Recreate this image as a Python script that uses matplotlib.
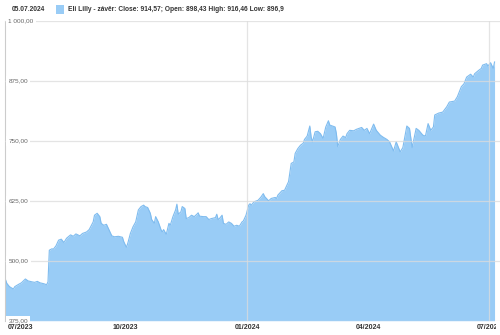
import matplotlib
matplotlib.use("Agg")
import matplotlib.pyplot as plt
import matplotlib.transforms as mtransforms
import pandas as pd

plt.rcParams['font.family'] = ['Liberation Sans', 'DejaVu Sans']

# close prices
dates = [
    "2023-07-03", "2023-07-04", "2023-07-06", "2023-07-09", "2023-07-10", "2023-07-13",
    "2023-07-15", "2023-07-18", "2023-07-20", "2023-07-23", "2023-07-25", "2023-07-27",
    "2023-07-29", "2023-08-01", "2023-08-03", "2023-08-04", "2023-08-05", "2023-08-07",
    "2023-08-08", "2023-08-10", "2023-08-12", "2023-08-14", "2023-08-16", "2023-08-18",
    "2023-08-21", "2023-08-23", "2023-08-25", "2023-08-28", "2023-08-30", "2023-09-02",
    "2023-09-04", "2023-09-07", "2023-09-08", "2023-09-10", "2023-09-12", "2023-09-13",
    "2023-09-15", "2023-09-17", "2023-09-19", "2023-09-21", "2023-09-23", "2023-09-26",
    "2023-09-29", "2023-09-30", "2023-10-02", "2023-10-03", "2023-10-05", "2023-10-07",
    "2023-10-09", "2023-10-11", "2023-10-13", "2023-10-15", "2023-10-16", "2023-10-18",
    "2023-10-20", "2023-10-21", "2023-10-23", "2023-10-24", "2023-10-26", "2023-10-28",
    "2023-10-29", "2023-10-30", "2023-11-01", "2023-11-03", "2023-11-04", "2023-11-06",
    "2023-11-08", "2023-11-09", "2023-11-10", "2023-11-12", "2023-11-13", "2023-11-15",
    "2023-11-16", "2023-11-18", "2023-11-20", "2023-11-22", "2023-11-24", "2023-11-25",
    "2023-11-26", "2023-11-29", "2023-12-01", "2023-12-03", "2023-12-05", "2023-12-08",
    "2023-12-09", "2023-12-10", "2023-12-11", "2023-12-13", "2023-12-14", "2023-12-16",
    "2023-12-18", "2023-12-20", "2023-12-22", "2023-12-24", "2023-12-26", "2023-12-28",
    "2023-12-29", "2023-12-31", "2024-01-02", "2024-01-03", "2024-01-04", "2024-01-06",
    "2024-01-09", "2024-01-11", "2024-01-13", "2024-01-14", "2024-01-17", "2024-01-19",
    "2024-01-22", "2024-01-23", "2024-01-24", "2024-01-27", "2024-01-29", "2024-02-01",
    "2024-02-03", "2024-02-05", "2024-02-06", "2024-02-08", "2024-02-10", "2024-02-12",
    "2024-02-13", "2024-02-15", "2024-02-17", "2024-02-18", "2024-02-19", "2024-02-21",
    "2024-02-23", "2024-02-25", "2024-02-27", "2024-02-29", "2024-03-02", "2024-03-03",
    "2024-03-05", "2024-03-07", "2024-03-08", "2024-03-09", "2024-03-11", "2024-03-13",
    "2024-03-15", "2024-03-16", "2024-03-18", "2024-03-21", "2024-03-23", "2024-03-25",
    "2024-03-27", "2024-03-29", "2024-03-31", "2024-04-02", "2024-04-05", "2024-04-07",
    "2024-04-10", "2024-04-12", "2024-04-15", "2024-04-17", "2024-04-20", "2024-04-22",
    "2024-04-25", "2024-04-27", "2024-04-30", "2024-05-02", "2024-05-04", "2024-05-07",
    "2024-05-09", "2024-05-12", "2024-05-14", "2024-05-16", "2024-05-18", "2024-05-20",
    "2024-05-21", "2024-05-24", "2024-05-27", "2024-05-30", "2024-06-01", "2024-06-05",
    "2024-06-07", "2024-06-10", "2024-06-12", "2024-06-14", "2024-06-17", "2024-06-19",
    "2024-06-20", "2024-06-23", "2024-06-25", "2024-06-26", "2024-06-29", "2024-06-30",
    "2024-07-02", "2024-07-04", "2024-07-05",
]
close = [
    461, 453, 446, 441, 446, 451,
    454, 462, 458, 456, 455, 457,
    454, 452, 450, 456, 522, 525,
    524, 531, 543, 545, 538, 547,
    554, 551, 556, 552, 557, 560,
    565, 581, 595, 599, 592, 578,
    574, 576, 564, 552, 550, 551,
    549, 540, 528, 536, 557, 571,
    581, 606, 613, 616, 613, 611,
    599, 586, 578, 592, 581, 565,
    560, 565, 555, 578, 574, 592,
    606, 618, 597, 602, 613, 609,
    588, 590, 595, 592, 597, 600,
    593, 592, 592, 586, 588, 590,
    597, 586, 588, 595, 578, 576,
    581, 578, 572, 574, 572, 581,
    583, 595, 616, 619, 616, 623,
    626, 632, 640, 634, 625, 630,
    632, 630, 637, 646, 647, 665,
    703, 706, 724, 734, 741, 745,
    753, 760, 781, 758, 748, 769,
    770, 765, 755, 779, 792, 783,
    781, 779, 765, 738, 753, 760,
    757, 765, 772, 771, 774, 776,
    778, 772, 776, 765, 785, 772,
    762, 758, 753, 748, 729, 748,
    727, 736, 781, 776, 736, 776,
    772, 762, 760, 786, 772, 779,
    804, 808, 810, 821, 831, 833,
    842, 863, 869, 883, 889, 883,
    890, 897, 901, 908, 911, 906,
    913, 901, 914.57,
]

y_ticks = [375, 500, 625, 750, 875, 1000]
y_labels = ["375,00", "500,00", "625,00", "750,00", "875,00", "1 000,00"]
x_ticks = ["2023-07-01", "2023-10-01", "2024-01-01", "2024-04-01", "2024-07-01"]
x_labels = ["07/2023", "10/2023", "01/2024", "04/2024", "07/2024"]
x_grid = ["2024-01-01", "2024-07-01"]

header_date = "05.07.2024"
legend_text = "Eli Lilly - závěr: Close: 914,57; Open: 898,43 High: 916,46 Low: 896,9"

fill_color = '#99ccf6'
line_color = '#7fbcef'
grid_color = '#dcdcdc'

fig = plt.figure(figsize=(5, 3.35), dpi=100)
fig.patch.set_facecolor('white')
ax = fig.add_axes([5 / 500, 14.3 / 335, 495 / 500, 299.7 / 335])

d = pd.to_datetime(dates)
ax.fill_between(d, close, 375, color=fill_color, lw=0, zorder=1)
ax.plot(d, close, color=line_color, lw=0.8, zorder=2)

start = pd.Timestamp("2023-07-01")
ax.set_xlim(start + pd.Timedelta(days=1.66), start + pd.Timedelta(days=374.1))
ax.set_ylim(375, 1000)

# grid on top of the fill
for v in y_ticks:
    ax.axhline(v, color=grid_color, lw=0.9, alpha=0.75, zorder=3)
for g in x_grid:
    ax.axvline(pd.Timestamp(g), color=grid_color, lw=0.9, alpha=0.75, zorder=3)

ax.set_xticks([])
ax.set_yticks([])
for s in ['top', 'right', 'bottom']:
    ax.spines[s].set_visible(False)
ax.spines['left'].set_color('#cccccc')
ax.spines['left'].set_linewidth(0.8)

# y labels sit inside the plot, on the gridline
trans = mtransforms.blended_transform_factory(ax.transAxes, ax.transData)
for v, lab in zip(y_ticks, y_labels):
    ax.text(0.007, v, lab, transform=trans, ha='left', va='center', fontsize=4.6,
            color='#666666', zorder=5,
            bbox=dict(boxstyle='square,pad=0.35', facecolor='white', edgecolor='none'))

# x labels under the plot, bold; the last one gets cut at the right edge
tx = mtransforms.blended_transform_factory(ax.transData, fig.transFigure)
clip = mtransforms.TransformedBbox(mtransforms.Bbox([[0, 0], [496 / 500, 1]]), fig.transFigure)
for i, (t, lab) in enumerate(zip(x_ticks, x_labels)):
    if i == 0:
        fig.text(8 / 500, 7.5 / 335, lab, ha='left', va='center', fontsize=5.0,
                 fontweight='bold', color='#333333')
    else:
        txt = ax.text(pd.Timestamp(t), 7.5 / 335, lab, transform=tx, ha='center',
                      va='center', fontsize=5.0, fontweight='bold', color='#333333')
        txt.set_clip_on(True)
        txt.set_clip_box(clip)

# header line with date and legend
fig.text(12 / 500, 1 - 9.5 / 335, header_date, ha='left', va='center', fontsize=4.8,
         fontweight='bold', color='#333333')
fig.patches.append(plt.Rectangle((56 / 500, 1 - 13.5 / 335), 8 / 500, 8 / 335,
                                 transform=fig.transFigure, facecolor=fill_color,
                                 edgecolor='none'))
fig.text(68 / 500, 1 - 9.5 / 335, legend_text, ha='left', va='center', fontsize=4.8,
         fontweight='bold', color='#333333')

plt.savefig("out.png", dpi=100)
plt.close()
